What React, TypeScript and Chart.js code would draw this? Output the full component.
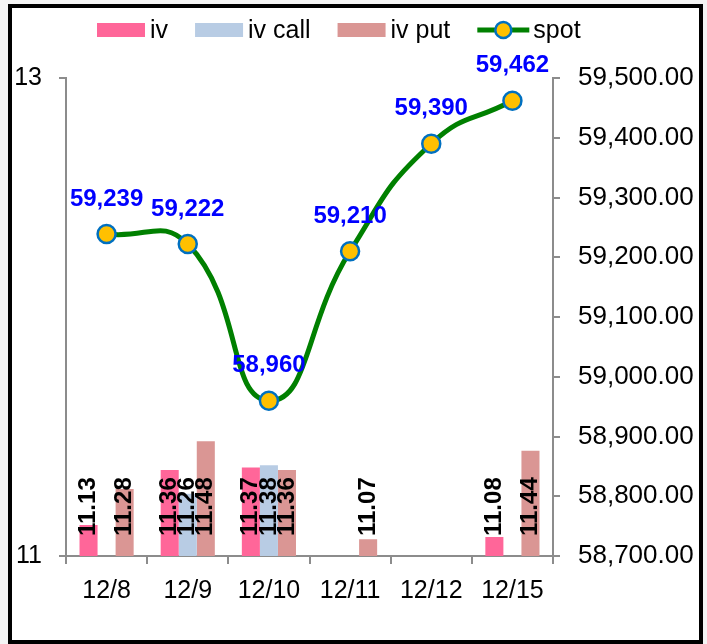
import React, { useEffect, useRef } from 'react';
import { Chart, registerables } from 'chart.js';

Chart.register(...registerables);

const categories = ['12/8', '12/9', '12/10', '12/11', '12/12', '12/15'];
const iv = [11.13, 11.36, 11.37, null, null, 11.08];
const ivCall = [null, 11.26, 11.38, null, null, null];
const ivPut = [11.28, 11.48, 11.36, 11.07, null, 11.44];
const spot = [59239, 59222, 58960, 59210, 59390, 59462];
const leftTicks = [11, 13];

const FONT = '"Liberation Sans", Arial, sans-serif';
const AXIS_GRAY = '#8c8c8c';

const COLORS = {
  iv: '#FF6699',
  ivCall: '#B8CCE4',
  ivPut: '#DA9694',
  line: '#008000',
  pointFill: '#FFC000',
  pointBorder: '#0070C0',
};

const framePlugin = {
  id: 'frame',
  beforeDraw(chart: any) {
    const ctx = chart.ctx;
    ctx.save();
    ctx.fillStyle = '#f4f4f4';
    ctx.fillRect(0, 0, chart.width, chart.height);
    ctx.fillStyle = '#ffffff';
    ctx.fillRect(8, 4, 695, 640);
    ctx.lineWidth = 4;
    ctx.strokeStyle = '#000';
    ctx.strokeRect(10, 6, 691, 636);
    ctx.restore();
  },
};

const legendPlugin = {
  id: 'customLegend',
  afterDraw(chart: any) {
    const ctx = chart.ctx;
    const items = [
      { kind: 'box', color: COLORS.iv, text: 'iv' },
      { kind: 'box', color: COLORS.ivCall, text: 'iv call' },
      { kind: 'box', color: COLORS.ivPut, text: 'iv put' },
      { kind: 'line', color: COLORS.line, text: 'spot' },
    ];
    ctx.save();
    ctx.font = `25px ${FONT}`;
    ctx.textBaseline = 'middle';
    ctx.textAlign = 'left';
    let x = 97;
    const yc = 30;
    items.forEach((it) => {
      if (it.kind === 'box') {
        ctx.fillStyle = it.color;
        ctx.fillRect(x, yc - 7, 48, 14);
        x += 53;
      } else {
        ctx.strokeStyle = it.color;
        ctx.lineWidth = 5;
        ctx.beginPath();
        ctx.moveTo(x, yc);
        ctx.lineTo(x + 52, yc);
        ctx.stroke();
        ctx.beginPath();
        ctx.arc(x + 26, yc, 8, 0, Math.PI * 2);
        ctx.fillStyle = COLORS.pointFill;
        ctx.fill();
        ctx.lineWidth = 2.5;
        ctx.strokeStyle = COLORS.pointBorder;
        ctx.stroke();
        x += 56;
      }
      ctx.fillStyle = '#000';
      ctx.fillText(it.text, x, yc + 1);
      x += ctx.measureText(it.text).width + 27;
    });
    ctx.restore();
  },
};

const labelsPlugin = {
  id: 'valueLabels',
  afterDatasetsDraw(chart: any) {
    const ctx = chart.ctx;
    const barSeries = [iv, ivCall, ivPut];
    const base = chart.scales.y.getPixelForValue(11);
    ctx.save();
    ctx.font = `bold 24px ${FONT}`;
    ctx.fillStyle = '#000';
    barSeries.forEach((series, i) => {
      const meta = chart.getDatasetMeta(i);
      meta.data.forEach((el: any, j: number) => {
        const v = series[j];
        if (v === null || v === undefined) return;
        ctx.save();
        ctx.translate(el.x, base - 20);
        ctx.rotate(-Math.PI / 2);
        ctx.textAlign = 'left';
        ctx.textBaseline = 'middle';
        ctx.fillText(v.toFixed(2), 0, 0);
        ctx.restore();
      });
    });
    const lineMeta = chart.getDatasetMeta(3);
    ctx.font = `bold 24px ${FONT}`;
    ctx.fillStyle = '#0000FF';
    ctx.textAlign = 'center';
    ctx.textBaseline = 'middle';
    lineMeta.data.forEach((el: any, j: number) => {
      ctx.fillText(spot[j].toLocaleString('en-US'), el.x, el.y - 35);
    });
    ctx.restore();
  },
};

export default function App() {
  const ref = useRef<HTMLCanvasElement | null>(null);

  useEffect(() => {
    if (!ref.current) return;
    const tickFont = { size: 26, family: FONT };
    const chart = new Chart(ref.current, {
      type: 'bar',
      data: {
        labels: categories,
        datasets: [
          {
            label: 'iv',
            data: iv,
            backgroundColor: COLORS.iv,
            yAxisID: 'y',
            categoryPercentage: 0.667,
            barPercentage: 1,
            order: 2,
          },
          {
            label: 'iv call',
            data: ivCall,
            backgroundColor: COLORS.ivCall,
            yAxisID: 'y',
            categoryPercentage: 0.667,
            barPercentage: 1,
            order: 2,
          },
          {
            label: 'iv put',
            data: ivPut,
            backgroundColor: COLORS.ivPut,
            yAxisID: 'y',
            categoryPercentage: 0.667,
            barPercentage: 1,
            order: 2,
          },
          {
            type: 'line',
            label: 'spot',
            data: spot,
            yAxisID: 'y1',
            borderColor: COLORS.line,
            borderWidth: 5,
            tension: 0.5,
            pointRadius: 9,
            pointBackgroundColor: COLORS.pointFill,
            pointBorderColor: COLORS.pointBorder,
            pointBorderWidth: 2.5,
            clip: false,
            order: 0,
          } as any,
        ],
      },
      options: {
        responsive: false,
        animation: false,
        layout: { padding: { left: 12, right: 12, top: 78, bottom: 0 } },
        plugins: {
          legend: { display: false },
          tooltip: { enabled: false },
        },
        scales: {
          x: {
            grid: { offset: true, drawOnChartArea: false, tickLength: 8, color: AXIS_GRAY, lineWidth: 2 },
            border: { color: AXIS_GRAY, width: 2 },
            ticks: { font: { size: 25, family: FONT }, color: '#000', padding: 12, maxRotation: 0 },
            afterFit: (s: any) => {
              s.height = 88;
            },
          },
          y: {
            position: 'left',
            min: 11,
            max: 13,
            afterBuildTicks: (s: any) => {
              s.ticks = leftTicks.map((v) => ({ value: v }));
            },
            ticks: { font: { size: 25, family: FONT }, color: '#000', padding: 17 },
            grid: { drawOnChartArea: false, tickLength: 7, color: AXIS_GRAY, lineWidth: 2 },
            border: { color: AXIS_GRAY, width: 2 },
            afterFit: (s: any) => {
              s.width = 54;
            },
          },
          y1: {
            position: 'right',
            min: 58700,
            max: 59500,
            ticks: {
              stepSize: 100,
              font: tickFont,
              color: '#000',
              padding: 18,
              callback: (v: any) =>
                Number(v).toLocaleString('en-US', { minimumFractionDigits: 2, maximumFractionDigits: 2 }),
            },
            grid: { drawOnChartArea: false, tickLength: 7, color: AXIS_GRAY, lineWidth: 2 },
            border: { color: AXIS_GRAY, width: 2 },
            afterFit: (s: any) => {
              s.width = 142;
            },
          },
        },
      } as any,
      plugins: [framePlugin, legendPlugin, labelsPlugin],
    });
    return () => chart.destroy();
  }, []);

  return (
    <div style={{ position: 'absolute', left: 0, top: 0, width: 707, height: 644 }}>
      <canvas ref={ref} width={707} height={644} style={{ display: 'block' }} />
    </div>
  );
}
